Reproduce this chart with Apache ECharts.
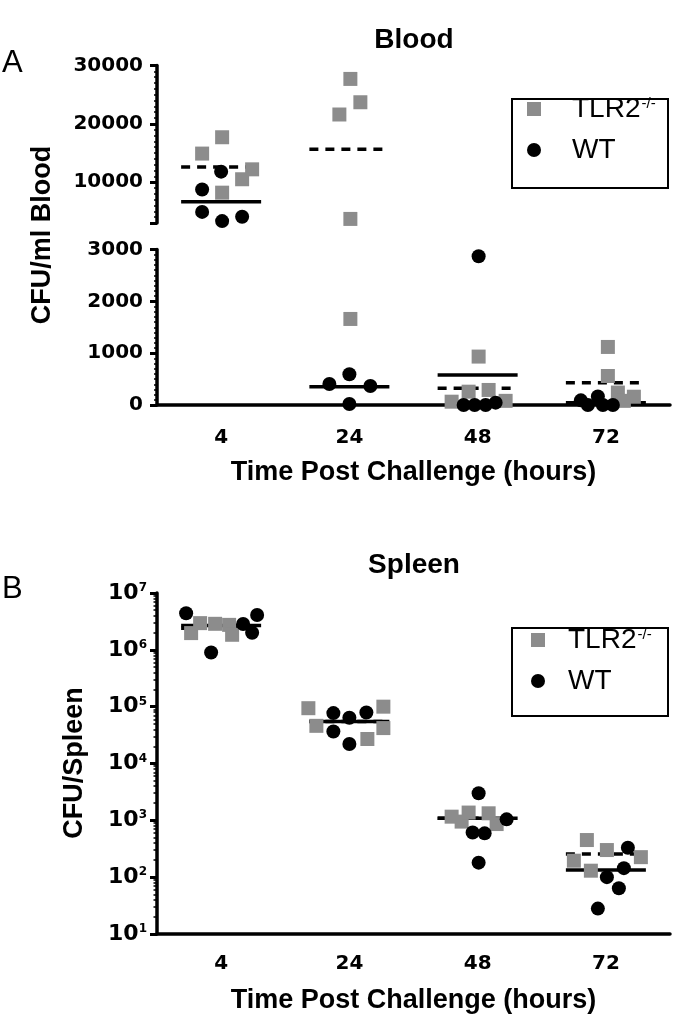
<!DOCTYPE html>
<html><head><meta charset="utf-8">
<script src="https://cdn.jsdelivr.net/npm/echarts@6/dist/echarts.min.js"></script>
<style>html,body{margin:0;padding:0;background:#fff}#c{width:680px;height:1016px}</style>
</head><body><div id="c"></div>
<script>
// ---------------- data ----------------
const categories = ['4', '24', '48', '72'];

// Blood (CFU/ml), per time point
const bloodTLR2 = [[17700, 14900, 12200, 10500, 8200], [27700, 23700, 21600, 3700, 1660], [934, 257, 290, 64, 80], [1120, 560, 240, 160, 80]];
const bloodWT = [[11800, 8750, 4900, 3330, 4070], [594, 406, 367, 20], [2870, 0, 0, 0, 45], [90, 165, 0, 0, 0]];
const bloodTLR2Mean = [12600, 15640, 323, 431];
const bloodWTMean = [6630, 354, 580, 45];
// horizontal scatter jitter (px)
const bloodTLR2Jitter = [[1, -19, 31, 21, 1], [1, 11, -10, 1, 1], [1, -9, 11, -26, 28], [2, 2, 12, 28, 18]];
const bloodWTJitter = [[0, -19, -19, 1, 21], [0, -20, 21, 0], [1, -14, -3, 8, 18], [-25, -8, -18, -3, 7]];

// Spleen (CFU/spleen)
const spleenTLR2 = [[1.97e6, 2.95e6, 2.87e6, 2.75e6, 1.84e6], [9.4e4, 4.6e4, 1.0e5, 4.2e4, 2.7e4], [1160, 950, 1370, 1330, 860], [450, 300, 195, 130, 225]];
const spleenWT = [[4.4e6, 9.0e5, 2.85e6, 4.1e6, 2.0e6], [7.7e4, 6.4e4, 7.9e4, 3.65e4, 2.2e4], [3000, 1040, 610, 590, 180], [330, 144, 100, 64, 28]];
const spleenTLR2Mean = [2.4e6, 5.5e4, 1090, 256];
const spleenWTMean = [2.68e6, 5.5e4, 1090, 134];
const spleenTLR2Jitter = [[-30, -21, -6, 8, 11], [-41, -33, 34, 34, 18], [-26, -16, -9, 11, 19], [-19, 1, -32, -15, 35]];
const spleenWTJitter = [[-35, -10, 22, 36, 31], [-16, 0, 17, -16, 0], [1, 29, -5, 7, 1], [22, 18, 1, 13, -8]];

// tick labels
const bloodUpperTicks = [10000, 20000, 30000];
const bloodLowerTicks = [0, 1000, 2000, 3000];
const spleenTicks = [10, 100, 1000, 10000, 100000, 1000000, 10000000];
const BREAK_VALUE = 3000;

// ---------------- helpers ----------------
const GRAY = '#8c8c8c';
const tickFont = { color: '#000', fontFamily: 'DejaVu Sans', fontWeight: 'bold', fontSize: 20 };
const lineStyle = { color: '#000', width: 3.5 };
const plain = v => String(Math.round(v));

function items(vals, jit, keep) {
  const out = [];
  vals.forEach((arr, i) => arr.forEach((v, j) => {
    if (keep(v)) out.push({ value: [categories[i], v], symbolOffset: [jit[i][j], 0] });
  }));
  return out;
}
function meanItems(vals, keep) {
  const out = [];
  vals.forEach((v, i) => { if (keep(v)) out.push([categories[i], v]); });
  return out;
}
function scatter(name, data, xi, yi, isSquare) {
  return {
    type: 'scatter', name, xAxisIndex: xi, yAxisIndex: yi, data,
    symbol: isSquare ? 'rect' : 'circle', symbolSize: 14,
    itemStyle: { color: isSquare ? GRAY : '#000', opacity: 1 },
    emphasis: { disabled: true }, clip: false
  };
}
function meanLine(name, data, xi, yi, dashed) {
  return {
    type: 'custom', name, xAxisIndex: xi, yAxisIndex: yi, data, clip: false,
    renderItem: (params, api) => {
      const p = api.coord([api.value(0), api.value(1)]);
      return {
        type: 'line',
        shape: { x1: p[0] - 40, y1: p[1], x2: p[0] + 40, y2: p[1] },
        style: { stroke: '#000', lineWidth: 3.5, lineDash: dashed ? [9, 7] : null }
      };
    }
  };
}
const hi = v => v >= BREAK_VALUE, lo = v => v < BREAK_VALUE, all = () => true;

const minorLog = [];
for (let e = 1; e < 7; e++) for (let k = 2; k <= 9; k++) minorLog.push(k * Math.pow(10, e));

const xAxisVisible = (gi, labelMargin, nameGap) => ({
  type: 'category', data: categories, gridIndex: gi, boundaryGap: true,
  axisLine: { onZero: false, lineStyle },
  axisTick: { alignWithLabel: true, length: 6, lineStyle: { color: '#000', width: 3 } },
  axisLabel: Object.assign({ margin: labelMargin }, tickFont),
  name: 'Time Post Challenge (hours)', nameLocation: 'middle', nameGap: nameGap,
  nameTextStyle: { color: '#000', fontFamily: 'Liberation Sans', fontWeight: 'bold', fontSize: 27 }
});

const legendRich = (padLeft) => ({
  a: { fontSize: 28, fontFamily: 'Liberation Sans', color: '#000', lineHeight: 32, padding: [0, 0, 0, padLeft] },
  s: { fontSize: 15, fontFamily: 'Liberation Sans', color: '#000', lineHeight: 14, verticalAlign: 'top', padding: [3, 0, 0, 1] }
});
const legendFmt = name => name === 'TLR2' ? '{a|TLR2}{s|-/-}' : '{a|WT}';

const option = {
  animation: false,
  backgroundColor: '#fff',
  grid: [
    { left: 157, right: 10, top: 65.5, height: 157.5 },
    { left: 157, right: 10, top: 249.5, height: 155.5 },
    { left: 157, right: 10, top: 593, height: 341 }
  ],
  xAxis: [
    { type: 'category', data: categories, gridIndex: 0, show: false },
    xAxisVisible(1, 23, 54),
    xAxisVisible(2, 20, 53)
  ],
  yAxis: [
    { type: 'value', gridIndex: 0, position: 'left', offset: 0, min: BREAK_VALUE, max: 30000, interval: 1000,
      axisLine: { show: true, lineStyle }, axisTick: { show: true, length: 3, lineStyle: { color: '#000', width: 1.5 } },
      axisLabel: { show: false }, splitLine: { show: false } },
    { type: 'value', gridIndex: 0, position: 'left', offset: 0, min: BREAK_VALUE, max: 30000, interval: 1000,
      axisLine: { show: false },
      axisTick: { show: true, customValues: [BREAK_VALUE].concat(bloodUpperTicks), length: 7, lineStyle: { color: '#000', width: 3 } },
      axisLabel: Object.assign({ customValues: bloodUpperTicks, margin: 14, formatter: plain }, tickFont), splitLine: { show: false } },
    { type: 'value', gridIndex: 1, position: 'left', min: bloodLowerTicks[0], max: bloodLowerTicks[bloodLowerTicks.length - 1], interval: 1000,
      axisLine: { show: true, lineStyle },
      axisTick: { show: true, length: 7, lineStyle: { color: '#000', width: 3 } },
      minorTick: { show: true, splitNumber: 10, length: 3, lineStyle: { color: '#000', width: 1.5 } },
      axisLabel: Object.assign({ margin: 14, formatter: plain }, tickFont), splitLine: { show: false }, minorSplitLine: { show: false } },
    { type: 'log', logBase: 10, gridIndex: 2, position: 'left', offset: 0, min: 10, max: 1e7,
      axisLine: { show: true, lineStyle },
      axisTick: { show: true, customValues: spleenTicks, length: 7, lineStyle: { color: '#000', width: 3 } },
      axisLabel: {
        customValues: spleenTicks, margin: 10,
        formatter: v => '{b|10}{s|' + Math.round(Math.log10(v)) + '}',
        rich: {
          b: { color: '#000', fontFamily: 'DejaVu Sans', fontWeight: 'bold', fontSize: 22 },
          s: { color: '#000', fontFamily: 'DejaVu Sans', fontWeight: 'bold', fontSize: 12, verticalAlign: 'top', lineHeight: 12 }
        }
      },
      splitLine: { show: false } },
    { type: 'log', logBase: 10, gridIndex: 2, position: 'left', offset: 0, min: 10, max: 1e7,
      axisLine: { show: false },
      axisTick: { show: true, customValues: minorLog, length: 3.5, lineStyle: { color: '#000', width: 1.5 } },
      axisLabel: { show: false }, splitLine: { show: false } }
  ],
  legend: [
    { data: ['TLR2', 'WT'], orient: 'vertical', left: 527, top: 93, padding: 0, itemWidth: 14, itemHeight: 14, itemGap: 13,
      selectedMode: false, formatter: legendFmt, textStyle: { rich: legendRich(26) } },
    { data: ['TLR2', 'WT'], orient: 'vertical', left: 531, top: 624, padding: 0, itemWidth: 14, itemHeight: 14, itemGap: 13,
      selectedMode: false, formatter: legendFmt, textStyle: { rich: legendRich(18) } }
  ],
  graphic: [
    { type: 'text', x: 414, y: 40, style: { text: 'Blood', fill: '#000', fontFamily: 'Liberation Sans', fontWeight: 'bold', fontSize: 28, align: 'center', verticalAlign: 'middle' } },
    { type: 'text', x: 414, y: 565, style: { text: 'Spleen', fill: '#000', fontFamily: 'Liberation Sans', fontWeight: 'bold', fontSize: 28, align: 'center', verticalAlign: 'middle' } },
    { type: 'text', x: 2, y: 63, style: { text: 'A', fill: '#000', fontFamily: 'Liberation Sans', fontSize: 31, align: 'left', verticalAlign: 'middle' } },
    { type: 'text', x: 2, y: 589, style: { text: 'B', fill: '#000', fontFamily: 'Liberation Sans', fontSize: 31, align: 'left', verticalAlign: 'middle' } },
    { type: 'text', x: 43, y: 235, rotation: Math.PI / 2, style: { text: 'CFU/ml Blood', fill: '#000', fontFamily: 'Liberation Sans', fontWeight: 'bold', fontSize: 27, align: 'center', verticalAlign: 'middle' } },
    { type: 'text', x: 75, y: 763, rotation: Math.PI / 2, style: { text: 'CFU/Spleen', fill: '#000', fontFamily: 'Liberation Sans', fontWeight: 'bold', fontSize: 27, align: 'center', verticalAlign: 'middle' } },
    { type: 'rect', shape: { x: 512, y: 99, width: 156, height: 89 }, style: { fill: 'none', stroke: '#000', lineWidth: 2 } },
    { type: 'rect', shape: { x: 512, y: 628, width: 156, height: 88 }, style: { fill: 'none', stroke: '#000', lineWidth: 2 } }
  ],
  series: [
    // Blood upper segment
    scatter('TLR2', items(bloodTLR2, bloodTLR2Jitter, hi), 0, 0, true),
    // Blood lower segment
    scatter('TLR2', items(bloodTLR2, bloodTLR2Jitter, lo), 1, 2, true),
    meanLine('TLR2 mean', meanItems(bloodTLR2Mean, hi), 0, 0, true),
    meanLine('TLR2 mean', meanItems(bloodTLR2Mean, lo), 1, 2, true),
    scatter('WT', items(bloodWT, bloodWTJitter, hi), 0, 0, false),
    scatter('WT', items(bloodWT, bloodWTJitter, lo), 1, 2, false),
    meanLine('WT mean', meanItems(bloodWTMean, hi), 0, 0, false),
    meanLine('WT mean', meanItems(bloodWTMean, lo), 1, 2, false),
    // Spleen
    scatter('TLR2', items(spleenTLR2, spleenTLR2Jitter, all), 2, 3, true),
    meanLine('TLR2 mean', meanItems(spleenTLR2Mean, all), 2, 3, true),
    scatter('WT', items(spleenWT, spleenWTJitter, all), 2, 3, false),
    meanLine('WT mean', meanItems(spleenWTMean, all), 2, 3, false)
  ]
};

const chart = echarts.init(document.getElementById('c'), null, { renderer: 'canvas' });
chart.setOption(option);
</script></body></html>
